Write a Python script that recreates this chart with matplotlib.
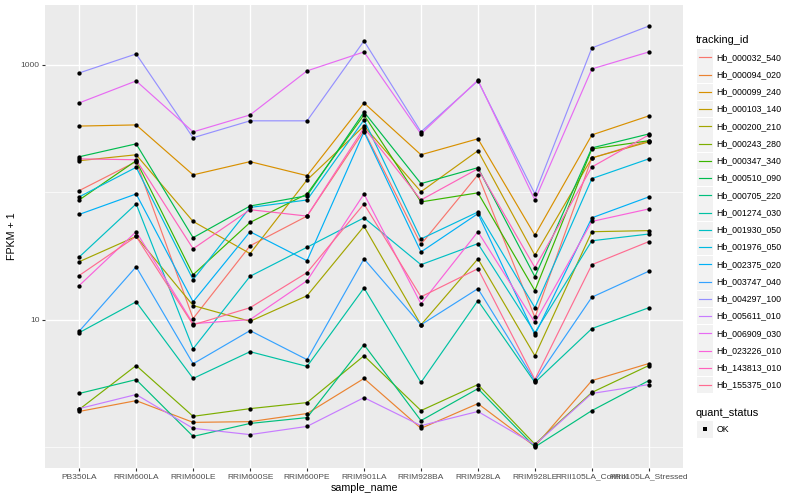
import numpy as np
import matplotlib
matplotlib.use("Agg")
import matplotlib.pyplot as plt
from matplotlib.patches import Rectangle
from matplotlib.lines import Line2D

plt.rcParams['font.family'] = ['Liberation Sans', 'DejaVu Sans']

samples = ["PB350LA", "RRIM600LA", "RRIM600LE", "RRIM600SE", "RRIM600PE",
           "RRIM901LA", "RRIM928BA", "RRIM928LA", "RRIM928LE",
           "RRII105LA_Control", "RRII105LA_Stressed"]

tracking_ids = ["Hb_000032_540", "Hb_000094_020", "Hb_000099_240", "Hb_000103_140",
                "Hb_000200_210", "Hb_000243_280", "Hb_000347_340", "Hb_000510_090",
                "Hb_000705_220", "Hb_001274_030", "Hb_001930_050", "Hb_001976_050",
                "Hb_002375_020", "Hb_003747_040", "Hb_004297_100", "Hb_005611_010",
                "Hb_006909_030", "Hb_023226_010", "Hb_143813_010", "Hb_155375_010"]

# FPKM + 1 per sample
Hb_000032_540 = [103, 174, 10.2, 38, 65, 304, 39, 137, 10.4, 186, 254]
Hb_000094_020 = [1.90, 2.31, 1.56, 1.58, 1.83, 3.45, 1.40, 2.19, 1.01, 3.32, 4.52]
Hb_000099_240 = [331, 338, 137, 174, 135, 503, 197, 263, 46, 282, 398]
Hb_000103_140 = [177, 197, 59, 33, 125, 331, 101, 212, 32, 186, 249]
Hb_000200_210 = [28.5, 45, 12.9, 9.7, 15.4, 54, 9.1, 30, 5.2, 49, 50]
Hb_000243_280 = [1.97, 4.36, 1.74, 2.0, 2.23, 5.2, 1.93, 3.09, 1.05, 2.68, 4.36]
Hb_000347_340 = [87, 177, 22.5, 58, 97, 405, 84, 99, 16.9, 219, 254]
Hb_000510_090 = [190, 240, 44, 78, 94, 427, 117, 156, 21.7, 223, 287]
Hb_000705_220 = [2.63, 3.38, 1.21, 1.53, 1.70, 6.36, 1.61, 2.87, 1.0, 1.93, 3.32]
Hb_001274_030 = [7.9, 13.8, 3.45, 5.6, 4.29, 17.7, 3.21, 14.1, 3.21, 8.5, 12.4]
Hb_001930_050 = [31, 81, 5.9, 21.9, 37, 63, 27, 39.5, 7.9, 41.6, 47]
Hb_001976_050 = [92, 157, 20.6, 76, 87, 370, 43, 70, 12.4, 128, 183]
Hb_002375_020 = [67, 97, 13.8, 49, 29, 298, 34, 68, 7.6, 63, 92]
Hb_003747_040 = [8.1, 26, 4.5, 8.2, 4.85, 30, 9.1, 17.5, 3.3, 15, 24]
Hb_004297_100 = [865, 1220, 268, 364, 364, 1543, 298, 750, 97, 1360, 2020]
Hb_005611_010 = [2.0, 2.58, 1.40, 1.25, 1.45, 2.44, 1.47, 1.90, 1.04, 2.63, 3.09]
Hb_006909_030 = [503, 749, 298, 405, 898, 1265, 287, 760, 87, 930, 1265]
Hb_023226_010 = [18.5, 49, 9.3, 10, 20.2, 97, 13.3, 49, 9.5, 59, 74]
Hb_143813_010 = [183, 180, 36, 73, 65, 321, 87, 153, 25.6, 158, 282]
Hb_155375_010 = [22.2, 45, 9.1, 12.4, 23.4, 81, 15.1, 25.1, 3.38, 27, 41]

series = [Hb_000032_540, Hb_000094_020, Hb_000099_240, Hb_000103_140, Hb_000200_210,
          Hb_000243_280, Hb_000347_340, Hb_000510_090, Hb_000705_220, Hb_001274_030,
          Hb_001930_050, Hb_001976_050, Hb_002375_020, Hb_003747_040, Hb_004297_100,
          Hb_005611_010, Hb_006909_030, Hb_023226_010, Hb_143813_010, Hb_155375_010]

palette = ["#F8766D", "#EA8331", "#D89000", "#C09B00", "#A3A500", "#7CAE00", "#39B600",
           "#00BB4E", "#00BF7D", "#00C1A3", "#00BFC4", "#00BAE0", "#00B0F6", "#35A2FF",
           "#9590FF", "#C77CFF", "#E76BF3", "#FA62DB", "#FF62BC", "#FF6C91"]

W, H = 800, 500
fig = plt.figure(figsize=(8, 5), dpi=100)
fig.patch.set_facecolor("white")

pl, pr, pt, pb = 45, 683, 5, 468
ax = fig.add_axes([pl / W, (H - pb) / H, (pr - pl) / W, (pb - pt) / H])
ax.set_facecolor("#EBEBEB")
for s in ax.spines.values():
    s.set_visible(False)

x = np.arange(len(samples))
for vals, col in zip(series, palette):
    ax.plot(x, vals, color=col, lw=0.85, zorder=2, solid_joinstyle='round')
for vals in series:
    ax.plot(x, vals, 'o', color='black', ms=3.1, mew=0, zorder=3)

ax.set_yscale('log')
allv = np.log10(np.concatenate([np.array(v, float) for v in series]))
lo, hi = allv.min(), allv.max()
pad = 0.05 * (hi - lo)
ax.set_ylim(10 ** (lo - pad), 10 ** (hi + pad))
ax.set_xlim(-0.6, len(samples) - 0.4)

ax.set_yticks([10, 1000])
ax.set_yticklabels(["10", "1000"])
ax.set_yticks([1, 100], minor=True)
ax.yaxis.set_minor_formatter(matplotlib.ticker.NullFormatter())
ax.set_xticks(x)
ax.set_xticklabels(samples)
ax.tick_params(axis='both', which='major', length=2.2, width=0.8, color='#333333',
               labelsize=6.0, labelcolor='#4D4D4D', pad=1.8)
ax.tick_params(axis='y', which='minor', length=0)
ax.grid(True, which='major', color='white', lw=1.0, zorder=0)
ax.grid(True, which='minor', axis='y', color='white', lw=0.5, zorder=0)
ax.set_axisbelow(True)

# overlay in pixel coordinates for titles and legend
ov = fig.add_axes([0, 0, 1, 1], zorder=5)
ov.set_xlim(0, W)
ov.set_ylim(H, 0)
ov.axis('off')
ov.patch.set_alpha(0)

ov.text(364, 488, "sample_name", ha='center', va='center', fontsize=7.7, color='black')
ov.text(12.5, 236.5, "FPKM + 1", ha='center', va='center', rotation=90, fontsize=7.7,
        color='black')

# legend: tracking_id
ov.text(696, 40, "tracking_id", ha='left', va='center', fontsize=7.9, color='black')
y0, dy = 57.3, 17.25
for k, (name, col) in enumerate(zip(tracking_ids, palette)):
    yc = y0 + dy * k
    ov.add_patch(Rectangle((697, yc - 8.2), 16.4, 16.4, facecolor='#F2F2F2',
                           edgecolor='none'))
    ov.add_line(Line2D([699, 711], [yc, yc], color=col, lw=0.85))
    ov.text(716.7, yc, name, ha='left', va='center', fontsize=6.3, color='black')

# legend: quant_status
ov.text(696, 412.7, "quant_status", ha='left', va='center', fontsize=7.9, color='black')
ov.add_patch(Rectangle((697, 429.3 - 8.2), 16.4, 16.4, facecolor='#F2F2F2',
                       edgecolor='none'))
ov.plot([705], [429.3], 's', color='black', ms=2.4, mew=0)
ov.text(716.7, 429.3, "OK", ha='left', va='center', fontsize=6.3, color='black')

fig.savefig("out.png", dpi=100)
